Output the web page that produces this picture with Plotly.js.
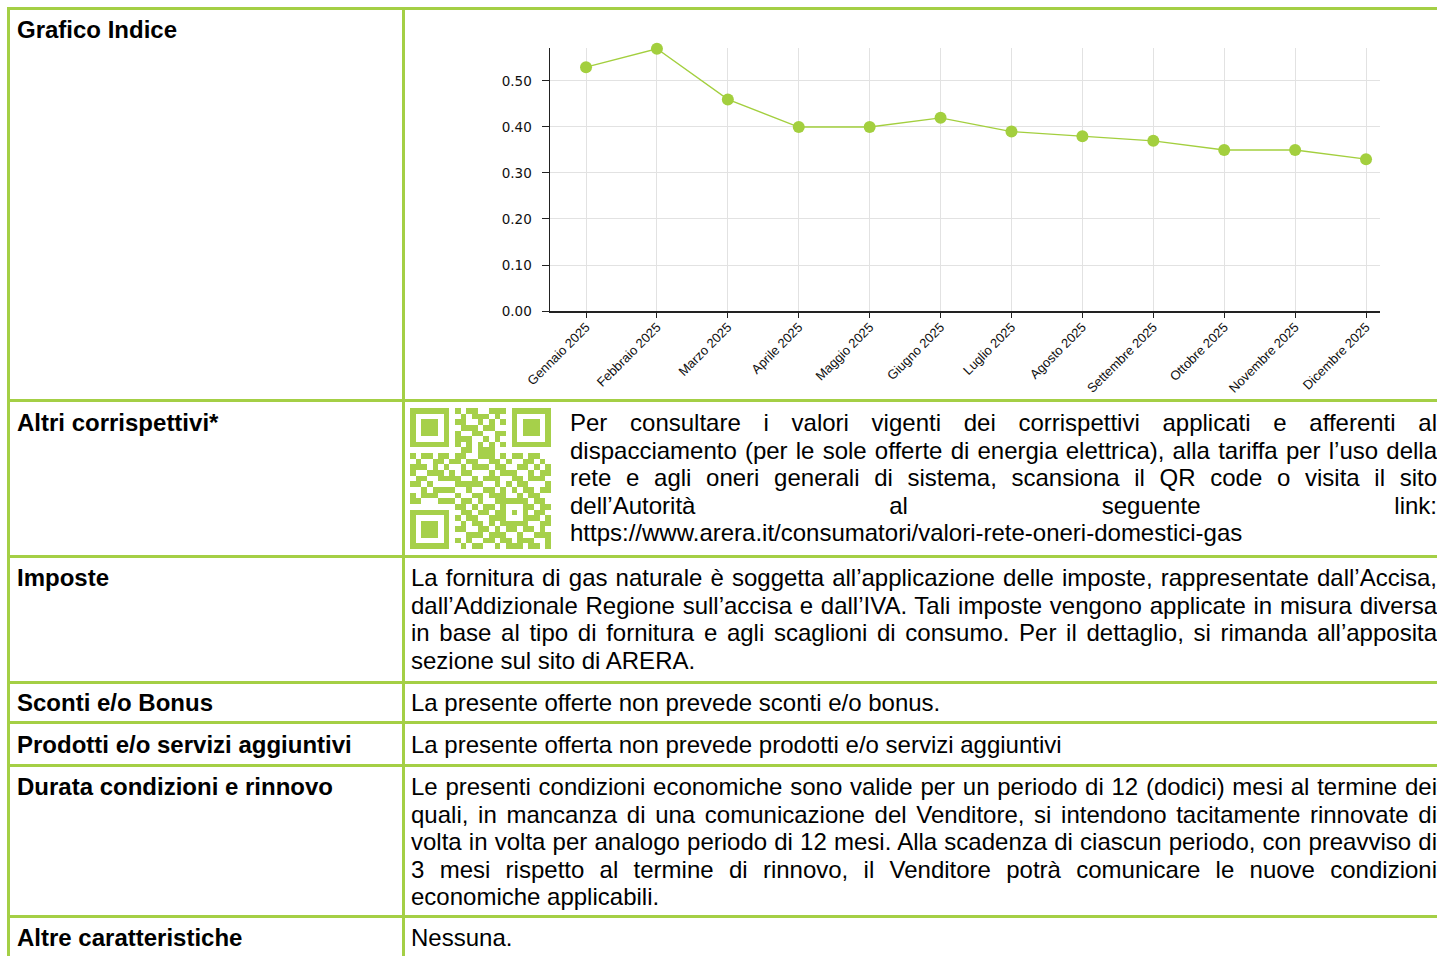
<!DOCTYPE html>
<html>
<head>
<meta charset="utf-8">
<script src="https://cdn.plot.ly/plotly-3.0.1.min.js"></script>
<style>
  html, body { margin: 0; padding: 0; background: #fff; width: 1437px; height: 956px; overflow: hidden; }
  body { position: relative; font-family: "Liberation Sans", Arial, sans-serif; color: #000; }
  .b { position: absolute; background: #a4cf45; }
  .t { position: absolute; font-size: 24px; line-height: 27.5px; white-space: nowrap; }
  .h { font-weight: bold; }
  .j div { text-align: justify; text-align-last: justify; white-space: normal; }
  .j div.last { text-align: left; text-align-last: left; }
  #chart { position: absolute; left: 406px; top: 10px; width: 1031px; height: 389px; }
  #qr { position: absolute; left: 410px; top: 408px; }
</style>
</head>
<body>
<div id="chart"></div>
<canvas id="qr" width="141" height="141"></canvas>
<div id="table"></div>
<script>
// ---- Chart data ----
const months = ["Gennaio 2025","Febbraio 2025","Marzo 2025","Aprile 2025","Maggio 2025","Giugno 2025",
                "Luglio 2025","Agosto 2025","Settembre 2025","Ottobre 2025","Novembre 2025","Dicembre 2025"];
const indexValues = [0.53, 0.57, 0.46, 0.40, 0.40, 0.42, 0.39, 0.38, 0.37, 0.35, 0.35, 0.33];
const yTicks = [0, 0.1, 0.2, 0.3, 0.4, 0.5];

// ---- Table content ----
const rowLabels = ["Grafico Indice","Altri corrispettivi*","Imposte","Sconti e/o Bonus",
                   "Prodotti e/o servizi aggiuntivi","Durata condizioni e rinnovo","Altre caratteristiche"];
const altriLines = [
  "Per consultare i valori vigenti dei corrispettivi applicati e afferenti al",
  "dispacciamento (per le sole offerte di energia elettrica), alla tariffa per l’uso della",
  "rete e agli oneri generali di sistema, scansiona il QR code o visita il sito",
  "dell’Autorità al seguente link:",
  "https://www.arera.it/consumatori/valori-rete-oneri-domestici-gas"
];
const imposteLines = [
  "La fornitura di gas naturale è soggetta all’applicazione delle imposte, rappresentate dall’Accisa,",
  "dall’Addizionale Regione sull’accisa e dall’IVA. Tali imposte vengono applicate in misura diversa",
  "in base al tipo di fornitura e agli scaglioni di consumo. Per il dettaglio, si rimanda all’apposita",
  "sezione sul sito di ARERA."
];
const scontiText = "La presente offerte non prevede sconti e/o bonus.";
const prodottiText = "La presente offerta non prevede prodotti e/o servizi aggiuntivi";
const durataLines = [
  "Le presenti condizioni economiche sono valide per un periodo di 12 (dodici) mesi al termine dei",
  "quali, in mancanza di una comunicazione del Venditore, si intendono tacitamente rinnovate di",
  "volta in volta per analogo periodo di 12 mesi. Alla scadenza di ciascun periodo, con preavviso di",
  "3 mesi rispetto al termine di rinnovo, il Venditore potrà comunicare le nuove condizioni",
  "economiche applicabili."
];
const altreText = "Nessuna.";

// QR code modules (25x25)
const qrRows = [
  "1111111010110011101111111",
  "1000001001011101001000001",
  "1011101011001010101011101",
  "1011101001110110001011101",
  "1011101010011001101011101",
  "1000001011100101001000001",
  "1111111010101010101111111",
  "0000000001101110000000000",
  "1011011011001110101101100",
  "0100110110110011010011010",
  "1110101001011101100110101",
  "1001110101100010111001011",
  "0110011110010111001101110",
  "1101000011111001010110001",
  "0010111100100110101011011",
  "1011100010011011100101100",
  "1100011101101001111110110",
  "0000000011010110100011011",
  "1111111001101101101010110",
  "1000001010110011100011101",
  "1011101001011010111110011",
  "1011101011001101011011010",
  "1011101000111011100100111",
  "1000001010100110110111001",
  "1111111001011001011101101"
];

// ---- Build table ----
const T = document.getElementById('table');
function el(cls, css, html) {
  const d = document.createElement('div');
  d.className = cls;
  Object.assign(d.style, css);
  if (html !== undefined) d.innerHTML = html;
  T.appendChild(d);
  return d;
}
// borders
const rowBorders = [7, 399, 555, 681, 721, 764, 915];
rowBorders.forEach(y => el('b', {left: '7px', top: y + 'px', width: '1440px', height: '3px'}));
el('b', {left: '7px', top: '7px', width: '3px', height: '960px'});
el('b', {left: '402px', top: '7px', width: '3px', height: '960px'});

const labelTops = [16, 409, 564, 689, 731, 773, 924];
rowLabels.forEach((s, i) => el('t h', {left: '17px', top: labelTops[i] + 'px'}, s));

function block(lines, left, top, width) {
  const d = el('t j', {left: left + 'px', top: top + 'px', width: width + 'px'});
  lines.forEach((ln, i) => {
    const l = document.createElement('div');
    l.textContent = ln;
    if (i === lines.length - 1) l.className = 'last';
    d.appendChild(l);
  });
}
block(altriLines, 570, 409, 867);
block(imposteLines, 411, 564, 1026);
el('t', {left: '411px', top: '689px'}, scontiText);
el('t', {left: '411px', top: '731px'}, prodottiText);
block(durataLines, 411, 773, 1026);
el('t', {left: '411px', top: '924px'}, altreText);

// ---- QR ----
const cv = document.getElementById('qr');
const ctx = cv.getContext('2d');
const n = qrRows.length, ms = 141 / n;
ctx.fillStyle = '#a6d04a';
qrRows.forEach((r, y) => {
  for (let x = 0; x < r.length; x++) {
    if (r[x] === '1') ctx.fillRect(Math.round(x * ms), Math.round(y * ms),
                                   Math.round((x + 1) * ms) - Math.round(x * ms),
                                   Math.round((y + 1) * ms) - Math.round(y * ms));
  }
});

// ---- Plotly chart ----
const green = '#a3cf3e';
const trace = {
  x: months, y: indexValues, type: 'scatter', mode: 'lines+markers',
  line: {color: green, width: 1.3},
  marker: {color: green, size: 12},
  cliponaxis: false,
  hoverinfo: 'skip'
};
const layout = {
  width: 1031, height: 389,
  margin: {l: 144, r: 57, t: 38, b: 88, pad: 0},
  paper_bgcolor: 'rgba(0,0,0,0)', plot_bgcolor: '#fff',
  showlegend: false,
  xaxis: {
    type: 'category', range: [-0.508, 11.197],
    showline: true, linecolor: '#222', linewidth: 1.5,
    ticks: 'outside', ticklen: 5, tickcolor: '#222', tickwidth: 1,
    showgrid: true, gridcolor: '#e2e2e2', gridwidth: 1,
    tickangle: -45, tickfont: {family: 'Liberation Sans, Arial', size: 13, color: '#111'},
    zeroline: false, ticklabelstandoff: -3
  },
  yaxis: {
    range: [0, 0.5717], tickvals: yTicks, tickformat: '.2f',
    showline: true, linecolor: '#222', linewidth: 1.5,
    ticks: 'outside', ticklen: 7, tickcolor: '#222', tickwidth: 1,
    showgrid: true, gridcolor: '#e2e2e2', gridwidth: 1,
    tickfont: {family: 'DejaVu Sans, Verdana', size: 13.5, color: '#111'},
    zeroline: false, ticklabelstandoff: 7
  }
};
Plotly.newPlot('chart', [trace], layout, {staticPlot: true, displayModeBar: false});
</script>
</body>
</html>
